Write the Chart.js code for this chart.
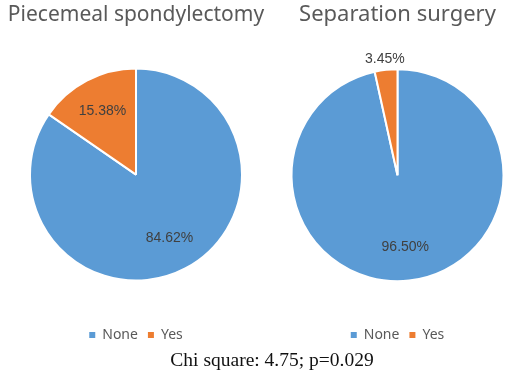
<!DOCTYPE html>
<html>
<head>
<meta charset="utf-8">
<script src="https://cdn.jsdelivr.net/npm/chart.js@4.4.1/dist/chart.umd.min.js"></script>
<style>
  html, body { margin: 0; padding: 0; background: #fff; width: 510px; height: 375px; overflow: hidden; }
  #left { position: absolute; left: 0; top: 0; }
  #right { position: absolute; left: 272px; top: 0; }
  #caption {
    position: absolute; left: 0; top: 349px; width: 544px; text-align: center;
    font-family: "Liberation Serif", "Times New Roman", serif; font-size: 19.5px; color: #111;
  }
</style>
</head>
<body>
<canvas id="left" width="272" height="352"></canvas>
<canvas id="right" width="251" height="352"></canvas>
<div id="caption">Chi square: 4.75; p=0.029</div>
<script>
const categories = ['None', 'Yes'];
const piecemealValues = [84.62, 15.38];
const separationValues = [96.50, 3.45];
const chartTitles = ['Piecemeal spondylectomy', 'Separation surgery'];
const sliceColors = ['#5B9BD5', '#ED7D31'];

// percentage labels, inside the slice, or just outside when the slice is thin
const pctLabels = {
    id: 'pctLabels',
    afterDatasetsDraw: chart => {
        const { ctx } = chart;
        const meta = chart.getDatasetMeta(0);
        const values = chart.data.datasets[0].data;
        ctx.save();
        ctx.font = '14px "Liberation Sans", sans-serif';
        ctx.fillStyle = '#404040';
        ctx.textAlign = 'center';
        ctx.textBaseline = 'middle';
        meta.data.forEach((arc, i) => {
            const { x, y, startAngle, endAngle, outerRadius } = arc.getProps(['x', 'y', 'startAngle', 'endAngle', 'outerRadius'], true);
            const mid = (startAngle + endAngle) / 2;
            const span = endAngle - startAngle;
            const dist = span < 0.4 ? outerRadius + 11 : outerRadius * 0.68;
            ctx.fillText(values[i].toFixed(2) + '%', x + Math.cos(mid) * dist, y + Math.sin(mid) * dist);
        });
        ctx.restore();
    }
};

function makePie(id, values, title, titleSize) {
    return new Chart(document.getElementById(id), {
        type: 'pie',
        data: {
            labels: categories,
            datasets: [{
                data: values,
                backgroundColor: sliceColors,
                borderColor: '#ffffff',
                borderWidth: 2
            }]
        },
        options: {
            responsive: false,
            animation: false,
            radius: 106,
            plugins: {
                title: {
                    display: true,
                    text: title,
                    color: '#595959',
                    font: { family: '"Noto Sans", sans-serif', size: titleSize, weight: 'normal' },
                    padding: { top: 2, bottom: 4 }
                },
                legend: {
                    position: 'bottom',
                    labels: {
                        boxWidth: 6,
                        boxHeight: 6,
                        padding: 10,
                        color: '#595959',
                        font: { family: '"Noto Sans", sans-serif', size: 14 },
                        generateLabels: chart => Chart.overrides.doughnut.plugins.legend.labels
                            .generateLabels(chart).map(l => Object.assign(l, { lineWidth: 0 }))
                    }
                },
                tooltip: { enabled: false }
            }
        },
        plugins: [pctLabels]
    });
}

makePie('left', piecemealValues, chartTitles[0], 21);
makePie('right', separationValues, chartTitles[1], 22);
</script>
</body>
</html>
